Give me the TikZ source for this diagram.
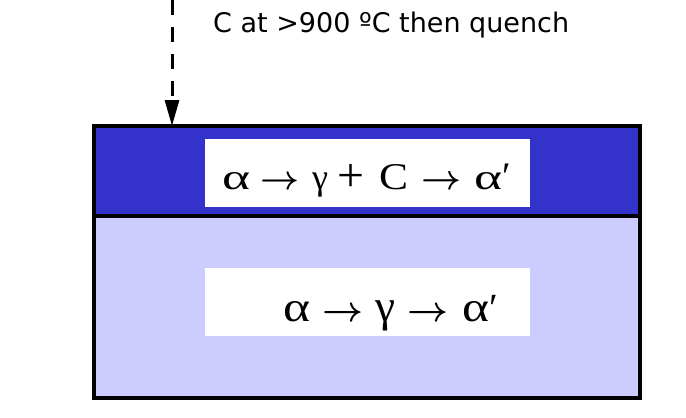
\documentclass[tikz,border=0pt]{standalone}
\usepackage{fontspec}
\usepackage{graphicx}
\setmainfont{Liberation Serif}
\newfontfamily\labelfont{DejaVu Sans}
\usetikzlibrary{arrows.meta}
\definecolor{darkband}{HTML}{3333CC}
\definecolor{lightband}{HTML}{CCCCFF}
\newcommand{\slot}[2]{\makebox[#1][l]{#2}}
\newcommand{\rarr}[1]{\resizebox{#1}{!}{\boldmath$\rightarrow$}}
\tikzset{
  band/.style={draw=black, line width=3.5pt, anchor=north west, inner sep=0pt, outer sep=0pt},
  whitebox/.style={fill=white, inner sep=0pt, outer sep=0pt, minimum width=325pt, minimum height=68pt},
  reaction/.style={font=\fontsize{39}{43}\selectfont, inner sep=0pt, anchor=base west},
  flow/.style={line width=3pt, dash pattern=on 15pt off 12pt, -{Triangle[length=26pt,width=14pt]}}
}
\begin{document}
\begin{tikzpicture}[x=1pt,y=-1pt]
\useasboundingbox (0,0) rectangle (686,418);
\node[band, fill=darkband, minimum width=546pt, minimum height=90pt] (top) at (94,126) {};
\node[band, fill=lightband, minimum width=546pt, minimum height=182pt] (bottom) at (94,216) {};
\node[whitebox] (w1) at (367.5,173) {};
\node[whitebox] (w2) at (367.5,302) {};
\node[reaction] (r1) at (222,189) {%
  \slot{38pt}{\resizebox{28pt}{17pt}{α}}%
  \slot{52pt}{\rarr{39pt}}%
  \slot{25pt}{\resizebox{16pt}{!}{γ}}%
  \slot{42pt}{\raisebox{-2pt}{\resizebox{27pt}{!}{+}}}%
  \slot{42pt}{\resizebox{29pt}{25pt}{C}}%
  \slot{53pt}{\rarr{40pt}}%
  \resizebox{28pt}{17pt}{α}′};
\node[reaction, font=\fontsize{40}{44}\selectfont] (r2) at (283,321) {%
  \slot{39pt}{\resizebox{27pt}{20pt}{α}}%
  \slot{53pt}{\rarr{41pt}}%
  \slot{32pt}{\resizebox{20pt}{!}{γ}}%
  \slot{55pt}{\rarr{41pt}}%
  \resizebox{27pt}{20pt}{α}′};
\coordinate (src) at (172,0);
\node[font=\labelfont\fontsize{27}{31}\selectfont, inner sep=0pt, anchor=base west] (lbl) at (213,32) {C at >900 ºC then quench};
\draw[flow] (src) -- (src |- top.north);
\end{tikzpicture}
\end{document}
